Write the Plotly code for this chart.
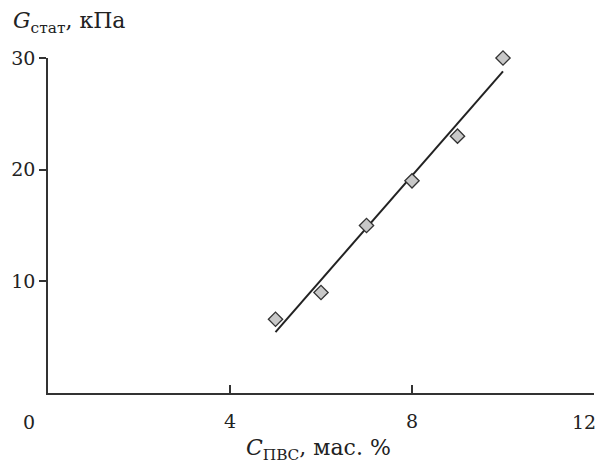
import plotly.graph_objects as go

# Data
c_pvs = [5, 6, 7, 8, 9, 10]
g_stat = [6.6, 9.0, 15.0, 19.0, 23.0, 30.0]
fit_x = [5, 10]
fit_y = [5.45, 28.8]

x_ticks = [4, 8, 12]
x_labels = ["4", "8", ""]       # "12" is drawn as an annotation so it is not clipped
y_ticks = [10, 20, 30]

FONT = "DejaVu Serif"
AX = "#333333"
TXT = "#222222"

fig = go.Figure()
fig.add_trace(go.Scatter(x=fit_x, y=fit_y, mode="lines",
                         line=dict(color="#222222", width=2), showlegend=False,
                         cliponaxis=False))
fig.add_trace(go.Scatter(x=c_pvs, y=g_stat, mode="markers",
                         marker=dict(symbol="diamond", size=11, color="#c8c8c8",
                                     line=dict(color="#333333", width=1.3)),
                         showlegend=False, cliponaxis=False))

# the page body has an 8px margin, so the figure is drawn 8px smaller and offset
fig.update_layout(
    template="none",
    width=596, height=452,
    margin=dict(l=40, r=10, t=50, b=67, pad=0),
    paper_bgcolor="white", plot_bgcolor="white",
    font=dict(family=FONT, size=18, color=TXT),
    xaxis=dict(range=[0, 12], tickvals=x_ticks, ticktext=x_labels,
               automargin=False, ticklabeloverflow="allow",
               showgrid=False, zeroline=False, showline=True, linecolor=AX, linewidth=1.5,
               ticks="inside", ticklen=8, tickcolor=AX, tickwidth=1.5,
               ticklabelstandoff=10,
               tickfont=dict(family=FONT, size=19, color=TXT)),
    yaxis=dict(range=[0, 30], tickvals=y_ticks, ticktext=[str(v) for v in y_ticks],
               automargin=False, ticklabeloverflow="allow",
               showgrid=False, zeroline=False, showline=True, linecolor=AX, linewidth=1.5,
               ticks="outside", ticklen=7, tickcolor=AX, tickwidth=1.5,
               tickfont=dict(family=FONT, size=19, color=TXT)),
    annotations=[
        dict(text="<i>G</i><sub>стат</sub>, кПа", xref="paper", yref="paper",
             x=-37/546, y=1 + 36/335, xanchor="left", yanchor="middle",
             showarrow=False, font=dict(family=FONT, size=22, color=TXT)),
        dict(text="0", xref="paper", yref="paper",
             x=-19/546, y=-29/335, xanchor="center", yanchor="middle",
             showarrow=False, font=dict(family=FONT, size=19, color=TXT)),
        dict(text=str(x_ticks[-1]), xref="x", yref="paper",
             x=x_ticks[-1], xshift=4, y=-29/335, xanchor="right", yanchor="middle",
             showarrow=False, font=dict(family=FONT, size=19, color=TXT)),
        dict(text="<i>C</i><sub>ПВС</sub>, мас. %", xref="paper", yref="paper",
             x=0.496, y=-56/335, xanchor="center", yanchor="middle",
             showarrow=False, font=dict(family=FONT, size=22, color=TXT)),
    ],
)

fig.write_html("out.html")
